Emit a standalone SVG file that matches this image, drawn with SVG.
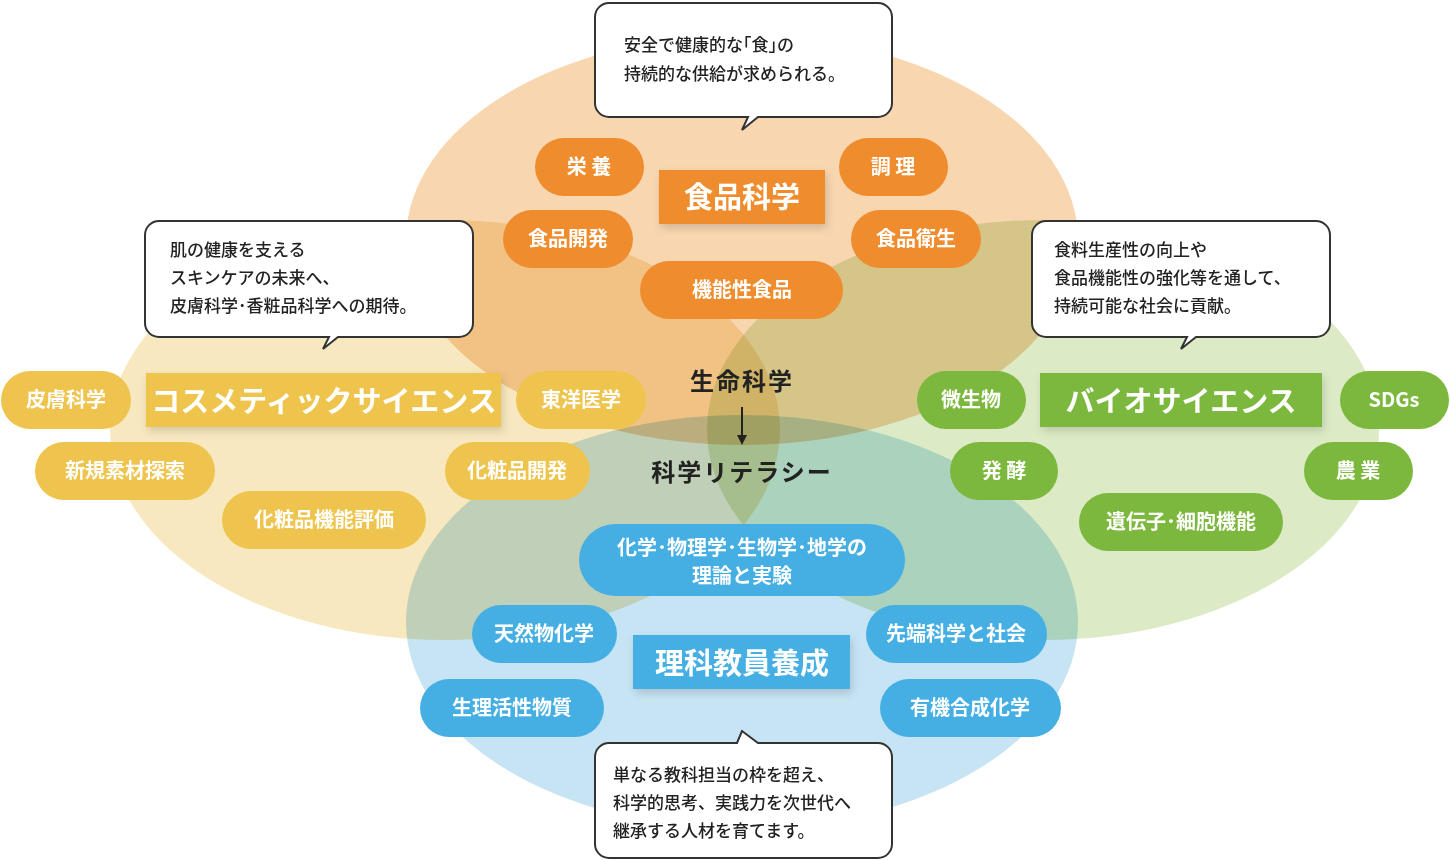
<svg xmlns="http://www.w3.org/2000/svg" width="1450" height="860" viewBox="0 0 1450 860">
<defs>
<style>
text{font-family:"Noto Sans CJK JP","Noto Sans",sans-serif;font-weight:bold}
.pt{fill:#fff;font-size:20px;text-anchor:middle}
.tt{fill:#fff;font-size:29px;text-anchor:middle}
.bt{fill:#222;font-size:17px;font-weight:500}
.bubble{fill:#fff;stroke:#333;stroke-width:2}
.o{fill:#ef8c2e}.y{fill:#efc44e}.g{fill:#7cb83e}.b{fill:#45aee3}
.e{mix-blend-mode:multiply}
</style>
<filter id="sh" x="-10%" y="-20%" width="130%" height="160%"><feDropShadow dx="2" dy="4" stdDeviation="4" flood-color="#000" flood-opacity="0.15"/></filter>
<marker id="ar" markerWidth="10" markerHeight="10" refX="5" refY="5" orient="auto" markerUnits="userSpaceOnUse" viewBox="0 0 10 10"><path d="M0,0L10,5L0,10z" fill="#222"/></marker>
</defs>
<rect width="1450" height="860" fill="#fff"/>
<g id="ellipses">
<ellipse class="e" cx="742" cy="240" rx="336" ry="205" fill="#f8d6b0"/>
<ellipse class="e" cx="445" cy="430" rx="335" ry="210" fill="#f8e8bf"/>
<ellipse class="e" cx="1043" cy="430" rx="336" ry="210" fill="#dcebc6"/>
<ellipse class="e" cx="742" cy="622" rx="336" ry="207" fill="#c6e4f4"/>
</g>
<g id="connectors">
<line x1="742" y1="407" x2="742" y2="440" stroke="#222" stroke-width="2" marker-end="url(#ar)"/>
</g>
<g id="center"><text x="742" y="390" font-size="24" text-anchor="middle" fill="#222" letter-spacing="2">生命科学</text>
<text x="742" y="481" font-size="24" text-anchor="middle" fill="#222" letter-spacing="2">科学リテラシー</text></g>

<g id="food-title"><rect x="659" y="170" width="166" height="54" class="o" filter="url(#sh)"/><text class="tt" x="742" y="208">食品科学</text></g>
<g id="n-eiyou"><rect x="535" y="138" width="109" height="58" rx="29" class="o"/><text class="pt" x="589" y="174">栄 養</text></g>
<g id="n-chouri"><rect x="839" y="138" width="109" height="58" rx="29" class="o"/><text class="pt" x="893" y="174">調 理</text></g>
<g id="n-kaihatsu"><rect x="503" y="210" width="130" height="58" rx="29" class="o"/><text class="pt" x="568" y="246">食品開発</text></g>
<g id="n-eisei"><rect x="851" y="210" width="130" height="58" rx="29" class="o"/><text class="pt" x="916" y="246">食品衛生</text></g>
<g id="n-kinou"><rect x="640" y="261" width="203" height="58" rx="29" class="o"/><text class="pt" x="742" y="297">機能性食品</text></g>

<g id="cos-title"><rect x="146" y="373" width="355" height="54" class="y" filter="url(#sh)"/><text class="tt" x="324" y="412">コスメティックサイエンス</text></g>
<g id="n-hifu"><rect x="1" y="371" width="130" height="58" rx="29" class="y"/><text class="pt" x="66" y="407">皮膚科学</text></g>
<g id="n-touyou"><rect x="516" y="371" width="130" height="58" rx="29" class="y"/><text class="pt" x="581" y="407">東洋医学</text></g>
<g id="n-shinki"><rect x="35" y="442" width="180" height="58" rx="29" class="y"/><text class="pt" x="125" y="478">新規素材探索</text></g>
<g id="n-keshou"><rect x="445" y="442" width="145" height="58" rx="29" class="y"/><text class="pt" x="517" y="478">化粧品開発</text></g>
<g id="n-hyouka"><rect x="222" y="491" width="204" height="58" rx="29" class="y"/><text class="pt" x="324" y="527">化粧品機能評価</text></g>

<g id="bio-title"><rect x="1040" y="373" width="282" height="54" class="g" filter="url(#sh)"/><text class="tt" x="1181" y="412">バイオサイエンス</text></g>
<g id="n-biseibutsu"><rect x="917" y="371" width="109" height="58" rx="29" class="g"/><text class="pt" x="971" y="407">微生物</text></g>
<g id="n-sdgs"><rect x="1340" y="371" width="109" height="58" rx="29" class="g"/><text class="pt" x="1394" y="407" font-family="Noto Sans,sans-serif">SDGs</text></g>
<g id="n-hakkou"><rect x="950" y="442" width="108" height="58" rx="29" class="g"/><text class="pt" x="1004" y="478">発 酵</text></g>
<g id="n-nougyou"><rect x="1304" y="442" width="109" height="58" rx="29" class="g"/><text class="pt" x="1358" y="478">農 業</text></g>
<g id="n-idenshi"><rect x="1079" y="493" width="204" height="58" rx="29" class="g"/><text class="pt" x="1181" y="529">遺伝子･細胞機能</text></g>

<g id="edu-title"><rect x="633" y="635" width="217" height="54" class="b" filter="url(#sh)"/><text class="tt" x="742" y="674">理科教員養成</text></g>
<g id="n-riron"><rect x="579" y="524" width="326" height="72" rx="36" class="b"/><text class="pt" x="742" y="555">化学･物理学･生物学･地学の</text><text class="pt" x="742" y="583">理論と実験</text></g>
<g id="n-tennen"><rect x="472" y="605" width="145" height="58" rx="29" class="b"/><text class="pt" x="544" y="641">天然物化学</text></g>
<g id="n-sentan"><rect x="866" y="605" width="181" height="58" rx="29" class="b"/><text class="pt" x="956" y="641">先端科学と社会</text></g>
<g id="n-seiri"><rect x="420" y="679" width="184" height="58" rx="29" class="b"/><text class="pt" x="512" y="715">生理活性物質</text></g>
<g id="n-yuuki"><rect x="880" y="679" width="181" height="58" rx="29" class="b"/><text class="pt" x="970" y="715">有機合成化学</text></g>

<g id="bubble-food"><path class="bubble" d="M609,3H878a14,14 0 0 1 14,14V103a14,14 0 0 1-14,14H758L742,130L748,117H609a14,14 0 0 1-14-14V17a14,14 0 0 1 14-14z"/><text class="bt" x="624" y="51">安全で健康的な｢食｣の</text><text class="bt" x="624" y="80">持続的な供給が求められる。</text></g>
<g id="bubble-cos"><path class="bubble" d="M159,221H459a14,14 0 0 1 14,14V323a14,14 0 0 1-14,14H338L323,349L329,337H159a14,14 0 0 1-14-14V235a14,14 0 0 1 14-14z"/><text class="bt" x="170" y="256">肌の健康を支える</text><text class="bt" x="170" y="284">スキンケアの未来へ、</text><text class="bt" x="170" y="312">皮膚科学･香粧品科学への期待。</text></g>
<g id="bubble-bio"><path class="bubble" d="M1046,221H1316a14,14 0 0 1 14,14V323a14,14 0 0 1-14,14H1196L1181,349L1187,337H1046a14,14 0 0 1-14-14V235a14,14 0 0 1 14-14z"/><text class="bt" x="1054" y="256">食料生産性の向上や</text><text class="bt" x="1054" y="284">食品機能性の強化等を通して、</text><text class="bt" x="1054" y="312">持続可能な社会に貢献。</text></g>
<g id="bubble-edu"><path class="bubble" d="M609,743H737L742,731L758,743H878a14,14 0 0 1 14,14V844a14,14 0 0 1-14,14H609a14,14 0 0 1-14-14V757a14,14 0 0 1 14-14z"/><text class="bt" x="613" y="781">単なる教科担当の枠を超え、</text><text class="bt" x="613" y="809">科学的思考、実践力を次世代へ</text><text class="bt" x="613" y="837">継承する人材を育てます。</text></g>
</svg>
